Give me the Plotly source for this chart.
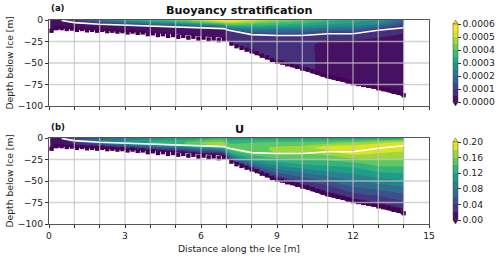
import plotly.graph_objects as go

x_cols = [0.05,0.5,1,2,3,4,5,6,6.9,7.1,8,9,10,11,12,13,14]
mld = [-0.5,-0.5,-3,-5,-6,-7,-8,-9,-10,-12,-17,-18,-18,-16,-16,-12,-9]
bottom = [-13,-10,-11,-12.5,-14,-15,-17,-19,-21,-26,-38,-50,-58,-68,-75,-81,-89]
above_fracs = [0,0.33,0.67,1]
below_fracs = [0.25,0.5,0.75,1]

buoy = [
 [0.2,0.3,0.9,2.2,3.2,3.6,4.1,5.0,5.8,5.8,5.2,4.6,4.2,3.7,3.3,3.0,1.8],
 [0.2,0.3,0.7,1.7,2.4,2.9,3.4,4.0,4.6,4.6,3.8,3.4,3.2,3.0,2.8,2.5,1.4],
 [0.2,0.2,0.5,1.0,1.5,1.8,2.0,2.4,2.8,2.8,2.2,2.0,1.9,1.9,1.8,1.6,1.0],
 [0.2,0.2,0.3,0.4,0.5,0.6,0.6,0.6,0.7,0.9,0.9,0.9,0.9,0.8,0.7,0.7,0.6],
 [0.2,0.2,0.2,0.3,0.3,0.3,0.3,0.3,0.3,0.7,0.7,0.7,0.7,0.3,0.3,0.3,0.3],
 [0.2,0.2,0.2,0.2,0.2,0.2,0.2,0.2,0.2,0.7,0.7,0.7,0.7,0.3,0.2,0.2,0.2],
 [0.2,0.2,0.2,0.2,0.2,0.2,0.2,0.2,0.2,0.7,0.7,0.7,0.7,0.3,0.2,0.2,0.2],
 [0.2,0.2,0.2,0.2,0.2,0.2,0.2,0.2,0.2,0.7,0.7,0.7,0.7,0.3,0.2,0.2,0.2],
]
vel = [
 [0.01,0.02,0.03,0.05,0.07,0.09,0.10,0.11,0.12,0.11,0.11,0.11,0.11,0.11,0.11,0.11,0.11],
 [0.01,0.02,0.04,0.07,0.09,0.11,0.12,0.14,0.15,0.13,0.14,0.15,0.15,0.15,0.16,0.16,0.16],
 [0.01,0.02,0.05,0.08,0.10,0.12,0.13,0.16,0.17,0.15,0.15,0.165,0.17,0.19,0.195,0.195,0.19],
 [0.01,0.02,0.05,0.08,0.10,0.12,0.13,0.15,0.16,0.15,0.15,0.16,0.16,0.175,0.195,0.195,0.195],
 [0.01,0.01,0.03,0.05,0.07,0.08,0.09,0.10,0.11,0.13,0.13,0.13,0.13,0.13,0.13,0.15,0.15],
 [0.01,0.01,0.02,0.03,0.04,0.05,0.05,0.06,0.07,0.09,0.09,0.09,0.09,0.09,0.09,0.10,0.10],
 [0.01,0.01,0.01,0.01,0.02,0.02,0.02,0.03,0.03,0.05,0.05,0.05,0.05,0.04,0.05,0.05,0.05],
 [0.00,0.00,0.00,0.00,0.00,0.00,0.00,0.00,0.00,0.005,0.005,0.005,0.005,0.005,0.005,0.005,0.005],
]
buoy_scaled = [[v * 1e-4 for v in row] for row in buoy]

# Tips of the stepped lower edge.
edge_x = [0.1,0.3,0.5,0.7,0.9,1.1,1.3,1.5,1.7,1.9,2.1,2.3,2.5,2.7,2.9,3.1,3.3,3.5,3.7,3.9,4.1,4.3,4.5,4.7,4.9,5.1,5.3,5.5,5.7,5.9,6.1,6.3,6.5,6.7,6.9,
          7.2,7.4,7.6,7.8,8.0,8.2,8.4,8.6,8.8,9.0,9.2,9.4,9.6,9.8,10.0,10.2,10.4,10.6,10.8,11.0,11.2,11.4,11.6,11.8,12.0,12.2,12.4,12.6,12.8,13.0,13.2,13.4,13.6,13.8,14.0]
edge_tip = [-15,-12,-12,-13,-12.5,-14,-13,-14.5,-14,-15,-14,-15.5,-15,-16,-15.5,-17,-16,-17.5,-17,-19,-18,-20,-19,-21,-20,-22,-21,-23,-22,-24,-23,-25,-24,-26,-25,
            -30,-33,-35,-37,-39,-41,-44,-46,-49,-51,-52,-54,-55,-57,-59,-60,-62,-64,-66,-68,-69,-71,-72,-74,-76,-77,-78,-79,-80,-82,-83,-84,-86,-87,-90]

x_grid = list(range(0, 16))
y_grid = [0, -25, -50, -75, -100]
x_tick_labels = ["0", "3", "6", "9", "12", "15"]
buoy_ticks = [0, 0.0001, 0.0002, 0.0003, 0.0004, 0.0005, 0.0006]
buoy_labels = ["0.0000","0.0001","0.0002","0.0003","0.0004","0.0005","0.0006"]
vel_ticks = [0, 0.04, 0.08, 0.12, 0.16, 0.20]
vel_labels = ["0.00","0.04","0.08","0.12","0.16","0.20"]

W, H = 500, 257
L, R, T, B = 49, 71, 20, 33
PW, PH = W - L - R, H - T - B
FONT = "DejaVu Sans"
NONE = "rgba(0,0,0,0)"
def px(v): return (v - L) / PW
def py(v): return 1 - (v - T) / PH

grid_x = [[xv for xv in x_cols] for _ in range(8)]
grid_y = []
for f in above_fracs:
    grid_y.append([m * f for m in mld])
for f in below_fracs:
    grid_y.append([m + (b - m) * f for m, b in zip(mld, bottom)])

fig = go.Figure()
def panel(name, xa, ya, z, zmax, step, ticks, labels, cy):
    a = list(range(len(x_cols)))
    b = list(range(8))
    hide = dict(showgrid=False, showticklabels="none", showline=False, linewidth=0, linecolor=NONE, gridcolor=NONE,
                startline=False, endline=False, startlinewidth=0, endlinewidth=0, startlinecolor=NONE, endlinecolor=NONE,
                minorgridcount=0, smoothing=0)
    fig.add_trace(go.Carpet(carpet=name, a=a, b=b, x=grid_x, y=grid_y, xaxis=xa, yaxis=ya, aaxis=hide, baxis=hide))
    fig.add_trace(go.Contourcarpet(
        carpet=name, a=a, b=b, z=z, xaxis=xa, yaxis=ya,
        autocontour=False, contours=dict(start=0, end=zmax, size=step, coloring="fill", showlines=False),
        line=dict(width=0), colorscale="Viridis", zmin=0, zmax=zmax,
        colorbar=dict(x=px(453), xanchor="left", y=cy, yanchor="middle",
                      len=78 / PH, lenmode="fraction", thickness=5, thicknessmode="pixels",
                      outlinewidth=0.5, outlinecolor="#444", tickmode="array", tickvals=ticks, ticktext=labels,
                      ticks="outside", ticklen=3, tickwidth=0.8, tickcolor="#333", xpad=0, ypad=0,
                      tickfont=dict(family=FONT, size=9.2, color="#222")),
    ))
    fig.add_trace(go.Bar(x=edge_x, y=[5] * len(edge_x), base=edge_tip, width=0.17, xaxis=xa, yaxis=ya,
                         marker=dict(color="#440154", line=dict(width=0)), hoverinfo="skip", showlegend=False))
    fig.add_trace(go.Scatter(x=x_cols[1:] + [14.05], y=mld[1:] + [-4], mode="lines", xaxis=xa, yaxis=ya,
                             line=dict(color="white", width=1.6), showlegend=False, hoverinfo="skip"))

panel("ca", "x", "y", buoy_scaled, 0.0006, 0.00005, buoy_ticks, buoy_labels, py(63))
panel("cb", "x2", "y2", vel, 0.20, 0.02, vel_ticks, vel_labels, py(181))

dom_a = [(224 - 106) / PH, 1]
dom_b = [0, 86 / PH]
tick_font = dict(family=FONT, size=9.2, color="#222")
ax = dict(range=[0, 15], showgrid=False, zeroline=False, showline=True, mirror=True, linecolor="#555", linewidth=1.2,
          ticks="outside", ticklen=3, tickwidth=0.9, tickcolor="#333", tickvals=x_grid, tickfont=tick_font)
ay = dict(range=[-100, 0], showgrid=False, zeroline=False, showline=True, mirror=True, linecolor="#555", linewidth=1.2,
          ticks="outside", ticklen=3, tickwidth=0.9, tickcolor="#333", tickvals=y_grid, tickfont=tick_font)
fig.update_layout(
    width=W, height=H, margin=dict(l=L, r=R, t=T, b=B, autoexpand=False), paper_bgcolor="white", plot_bgcolor="white", showlegend=False,
    xaxis=dict(ax, domain=[0, 1], anchor="y", ticktext=[""] * 16),
    yaxis=dict(ay, domain=dom_a, anchor="x"),
    xaxis2=dict(ax, domain=[0, 1], anchor="y2", ticktext=[x_tick_labels[i // 3] if i % 3 == 0 else "" for i in x_grid]),
    yaxis2=dict(ay, domain=dom_b, anchor="x2"),
)

shapes = []
for xr, yr in (("x", "y"), ("x2", "y2")):
    for v in x_grid[1:-1]:
        shapes.append(dict(type="line", xref=xr, yref=yr, x0=v, x1=v, y0=-100, y1=0, layer="above",
                           line=dict(color="rgba(195,195,195,0.75)", width=1.3)))
    for v in y_grid[1:-1]:
        shapes.append(dict(type="line", xref=xr, yref=yr, x0=0, x1=15, y0=v, y1=v, layer="above",
                           line=dict(color="rgba(195,195,195,0.75)", width=1.3)))
for ytop, ybot in ((24, 102), (142, 220)):
    shapes.append(dict(type="path", xref="paper", yref="paper", fillcolor="#fde725", line=dict(color="#444", width=0.5),
                       path=f"M {px(453)} {py(ytop)} L {px(458)} {py(ytop)} L {px(455.5)} {py(ytop-4)} Z"))
    shapes.append(dict(type="path", xref="paper", yref="paper", fillcolor="#440154", line=dict(color="#444", width=0.5),
                       path=f"M {px(453)} {py(ybot)} L {px(458)} {py(ybot)} L {px(455.5)} {py(ybot+4)} Z"))
fig.update_layout(shapes=shapes)

def note(text, x, y, size, xanchor="center", angle=0, color="#111"):
    fig.add_annotation(text=text, x=px(x), y=py(y), xref="paper", yref="paper", showarrow=False, textangle=angle,
                       font=dict(family=FONT, size=size, color=color), xanchor=xanchor, yanchor="middle")
note("<b>Buoyancy stratification</b>", 239, 10.5, 11.2)
note("<b>U</b>", 239, 129, 11.2)
note("<b>(a)</b>", 49, 8.5, 8.5, "left")
note("<b>(b)</b>", 49, 127, 8.5, "left")
note("Depth below Ice [m]", 8.5, 63, 9.2, angle=-90, color="#222")
note("Depth below Ice [m]", 8.5, 181, 9.2, angle=-90, color="#222")
note("Distance along the Ice [m]", 239, 248, 9.2, color="#222")
fig.write_html("out.html", config=dict(displayModeBar=False),
               post_script="document.body.style.margin='0';document.body.style.overflow='hidden';")
